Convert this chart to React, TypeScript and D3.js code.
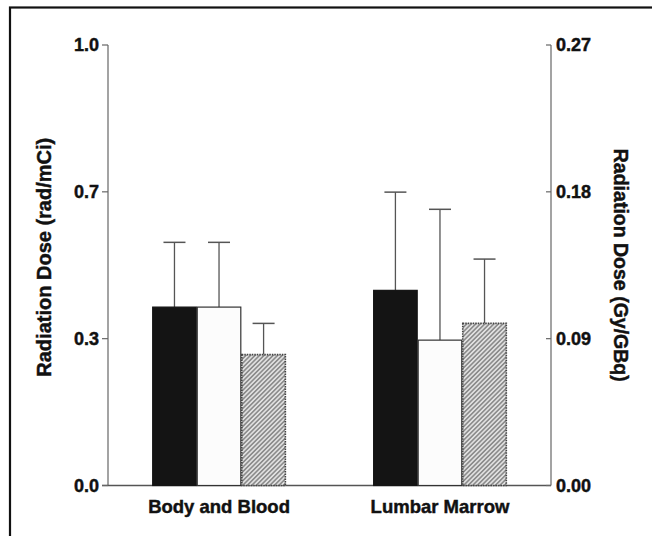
import React from "react";
import * as d3 from "d3";

const categories = ["Body and Blood", "Lumbar Marrow"];
const seriesKeys = ["black", "white", "hatched"];
const bodyValues = [0.405, 0.405, 0.297];
const bodyErrors = [0.147, 0.147, 0.071];
const marrowValues = [0.443, 0.33, 0.368];
const marrowErrors = [0.223, 0.297, 0.146];
const leftTickValues = [0, 1 / 3, 2 / 3, 1];
const leftTickLabels = ["0.0", "0.3", "0.7", "1.0"];
const rightTickValues = [0, 0.09, 0.18, 0.27];
const rightTickLabels = ["0.00", "0.09", "0.18", "0.27"];
const leftTitle = "Radiation Dose (rad/mCi)";
const rightTitle = "Radiation Dose (Gy/GBq)";

const W = 652;
const H = 536;
const axL = 108;
const axR = 551;
const top = 45;
const bottom = 485.5;
const font = "'Liberation Sans', Arial, Helvetica, sans-serif";

export default function App() {
  const y = d3.scaleLinear().domain([0, 1]).range([bottom, top]);
  const yR = d3.scaleLinear().domain([0, 0.27]).range([bottom, top]);
  const x0 = d3
    .scaleBand<string>()
    .domain(categories)
    .range([axL, axR])
    .paddingInner(0.395)
    .paddingOuter(0.2);
  const x1 = d3.scaleBand<string>().domain(seriesKeys).range([0, x0.bandwidth()]);

  const groups = [
    { cat: categories[0], values: bodyValues, errors: bodyErrors },
    { cat: categories[1], values: marrowValues, errors: marrowErrors },
  ];

  const fills: Record<string, string> = {
    black: "#141414",
    white: "#fcfcfc",
    hatched: "url(#hatch)",
  };
  const strokes: Record<string, string> = {
    black: "#141414",
    white: "#333",
    hatched: "#444",
  };

  const textProps = {
    fontFamily: font,
    fontWeight: "bold" as const,
    fill: "#111",
    stroke: "#111",
    strokeWidth: 0.45,
  };

  return (
    <svg
      width={W}
      height={H}
      style={{ position: "absolute", left: 0, top: 0, background: "#fff" }}
    >
      <defs>
        <pattern
          id="hatch"
          patternUnits="userSpaceOnUse"
          width={3.2}
          height={3.2}
          patternTransform="rotate(45)"
        >
          <rect width={3.2} height={3.2} fill="#e0e0e0" />
          <line x1={0.8} y1={0} x2={0.8} y2={3.2} stroke="#707070" strokeWidth={1.2} />
        </pattern>
      </defs>
      <rect x={10} y={7.5} width={700} height={600} fill="none" stroke="#111" strokeWidth={2.2} />

      {/* axes */}
      <line x1={axL} y1={top} x2={axL} y2={bottom} stroke="#666" strokeWidth={1.2} />
      <line x1={axR} y1={top} x2={axR} y2={bottom} stroke="#666" strokeWidth={1.2} />
      <line x1={axL - 6} y1={bottom} x2={axR} y2={bottom} stroke="#555" strokeWidth={1.3} />

      {leftTickValues.map((v, i) => (
        <g key={"l" + i}>
          <line x1={axL - 6} x2={axL} y1={y(v)} y2={y(v)} stroke="#666" strokeWidth={1.2} />
          <text x={axL - 9} y={y(v)} dy="0.35em" textAnchor="end" fontSize={18} {...textProps}>
            {leftTickLabels[i]}
          </text>
        </g>
      ))}
      {rightTickValues.map((v, i) => (
        <g key={"r" + i}>
          <line x1={axR - 5} x2={axR} y1={yR(v)} y2={yR(v)} stroke="#666" strokeWidth={1.2} />
          <text x={axR + 5} y={yR(v)} dy="0.35em" textAnchor="start" fontSize={18} {...textProps}>
            {rightTickLabels[i]}
          </text>
        </g>
      ))}

      {/* bars */}
      {groups.map((g) => (
        <g key={g.cat} transform={`translate(${x0(g.cat)},0)`}>
          {seriesKeys.map((k, i) => {
            const bx = x1(k)!;
            const bw = x1.bandwidth();
            const v = g.values[i];
            const e = g.errors[i];
            const cx = bx + bw / 2;
            return (
              <g key={k}>
                <line x1={cx} x2={cx} y1={y(v)} y2={y(v + e)} stroke="#555" strokeWidth={1.3} />
                <line
                  x1={cx - 11}
                  x2={cx + 11}
                  y1={y(v + e)}
                  y2={y(v + e)}
                  stroke="#555"
                  strokeWidth={1.5}
                />
                <rect
                  x={bx + 0.5}
                  y={y(v)}
                  width={bw - 1}
                  height={y(0) - y(v)}
                  fill={fills[k]}
                  stroke={strokes[k]}
                  strokeWidth={k === "hatched" ? 1.6 : 1.2}
                  strokeDasharray={k === "hatched" ? "1.5 1" : undefined}
                />
              </g>
            );
          })}
          <text x={x0.bandwidth() / 2} y={513} textAnchor="middle" fontSize={18.5} {...textProps}>
            {g.cat}
          </text>
        </g>
      ))}

      <text
        transform={`translate(44,${(top + bottom) / 2 - 8}) rotate(-90)`}
        dy="0.35em"
        textAnchor="middle"
        fontSize={20}
        {...textProps}
      >
        {leftTitle}
      </text>
      <text
        transform={`translate(621,${(top + bottom) / 2}) rotate(90)`}
        dy="0.35em"
        textAnchor="middle"
        fontSize={19.5}
        {...textProps}
      >
        {rightTitle}
      </text>
    </svg>
  );
}
